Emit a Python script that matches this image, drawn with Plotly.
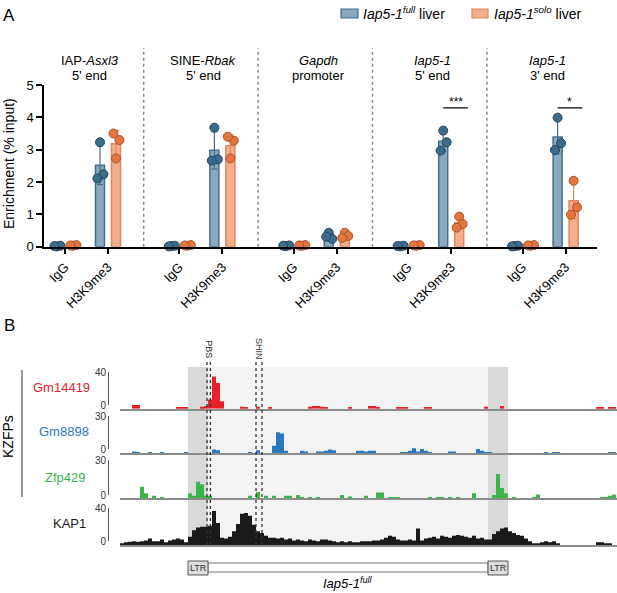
import numpy as np
import plotly.graph_objects as go

W, H = 617, 593
FONT = "Liberation Sans, Arial, sans-serif"


def fx(px):
    return px / W


def fy(py):
    return 1 - py / H


# ---------------- panel A: ChIP-qPCR ----------------
region_top = ["IAP-<i>Asxl3</i>", "SINE-<i>Rbak</i>", "<i>Gapdh</i>", "<i>Iap5-1</i>", "<i>Iap5-1</i>"]
region_bottom = ["5' end", "5' end", "promoter", "5' end", "3' end"]
antibodies = ["IgG", "H3K9me3"]

# one entry per (region, antibody): IgG, H3K9me3, IgG, H3K9me3, ...
full_mean = [0.02, 2.52, 0.02, 2.98, 0.03, 0.30, 0.02, 3.26, 0.02, 3.39]
full_sd = [0.01, 0.60, 0.01, 0.58, 0.01, 0.10, 0.01, 0.31, 0.01, 0.52]
full_reps = [
    [0.01, 0.03, 0.02], [3.23, 2.24, 2.11],
    [0.02, 0.03, 0.01], [3.68, 2.70, 2.66],
    [0.02, 0.04, 0.03], [0.43, 0.24, 0.31],
    [0.01, 0.03, 0.02], [3.59, 3.23, 2.97],
    [0.02, 0.03, 0.01], [3.99, 3.20, 2.99],
]
solo_mean = [0.04, 3.18, 0.04, 3.12, 0.04, 0.33, 0.04, 0.74, 0.04, 1.42]
solo_sd = [0.01, 0.42, 0.01, 0.35, 0.01, 0.09, 0.01, 0.17, 0.01, 0.55]
solo_reps = [
    [0.03, 0.05, 0.04], [2.73, 3.30, 3.50],
    [0.03, 0.05, 0.04], [2.73, 3.28, 3.40],
    [0.03, 0.05, 0.04], [0.43, 0.33, 0.27],
    [0.03, 0.05, 0.04], [0.93, 0.70, 0.59],
    [0.03, 0.05, 0.04], [2.04, 1.22, 0.99],
]
# significance: (region index, label)
signif = [(3, "***"), (4, "*")]

# ---------------- panel B: ChIP-seq tracks (binned) ----------------
gm14419 = [
    0, 0, 0, 4, 4, 0, 0, 0, 0, 0,
    0, 0, 0, 0, 1, 1, 1, 0, 0, 0,
    2, 3, 10, 35, 28, 8, 0, 0, 0, 0,
    2, 1, 0, 0, 2, 0, 0, 1, 0, 0,
    0, 0, 0, 0, 0, 0, 0, 2, 3, 3,
    2, 1, 0, 0, 0, 0, 0, 1, 0, 0,
    0, 0, 3, 3, 1, 0, 0, 0, 0, 1.5,
    1.5, 1, 0, 0, 0, 0, 1.5, 1.5, 0, 0,
    0, 0, 0, 0, 0, 0, 0, 0, 0, 0,
    0, 2, 0, 0, 0, 3, 0, 0, 0, 0,
    0, 0, 0, 0, 0, 0, 0, 0, 0, 0,
    0, 0, 0, 0, 0, 0, 0, 0, 0, 1.5,
    1.5, 0, 1.5, 1.5,
]
gm8898 = [
    0, 0, 0, 1.5, 1, 0, 0, 1, 0, 0,
    1, 0, 0, 0, 0, 0, 1, 0, 0, 0,
    0, 0, 0, 3, 2.5, 0, 0, 0, 0, 0,
    0, 0, 1, 0, 2.5, 0, 0, 0, 6, 17,
    16, 2, 0, 0, 0, 2, 1.5, 0, 0, 1.5,
    1.5, 2, 3, 2.5, 0, 0, 0, 0, 0, 2,
    2, 1.5, 2, 2, 0, 0, 0, 0, 0, 0,
    1, 1, 2, 4, 1.5, 3.5, 2, 1, 0, 0,
    0, 0, 1.5, 1.5, 0, 0, 0, 0, 0, 3.5,
    2, 1, 0.5, 0, 0, 0, 0, 0, 0, 0,
    0, 0, 0, 0, 0, 0, 1, 0, 1, 1,
    0, 0, 0, 0, 0, 0, 0, 0, 0, 0,
    0, 0, 1, 1,
]
zfp429 = [
    0, 0, 0, 0, 0, 9, 4, 0, 2, 0,
    1, 0, 0, 0, 0, 0, 0, 4, 2, 13,
    11, 2, 2, 0, 0, 0, 0, 0, 0, 0,
    0, 0, 2, 0, 5, 0, 2, 0, 2, 0,
    0, 2, 2, 0, 2.5, 1, 0, 1, 0, 1,
    0, 0, 0, 0, 0, 2.5, 0, 1.5, 0, 0,
    0, 2, 0, 0, 4.5, 4.5, 0, 1, 1, 1,
    0, 0, 0, 0, 0, 0, 0, 1, 0, 1,
    1, 0, 1, 0, 1, 0, 0, 0, 4, 0,
    0, 0, 0, 2.5, 19, 8, 4, 0, 1, 0,
    0, 0, 0, 1, 3, 0, 0, 0, 0, 0,
    0, 0, 0, 0, 0, 0, 0, 0, 0, 0,
    1, 1, 2, 3,
]
kap1 = [
    2, 3, 3.5, 4, 3.5, 4, 5, 7, 4, 4,
    6, 3, 5, 6, 7, 6, 3, 9, 16, 19,
    20, 20, 21, 37, 24, 8, 7, 9, 15, 23,
    34, 35, 32, 22, 15, 13, 10, 8, 8, 7,
    8, 6, 7, 5, 6, 5, 4, 6, 5, 4,
    6, 6, 5, 4, 3, 4, 3, 4, 3, 3,
    4, 4, 4, 5, 5, 6, 8, 10, 9, 6,
    5, 5, 6, 5, 18, 5, 7, 8, 9, 7,
    10, 9, 8, 10, 11, 10, 9, 8, 10, 7,
    8, 6, 6, 12, 15, 18, 19, 15, 13, 11,
    10, 7, 4, 2, 1, 3, 4, 3, 4, 2,
    0, 0, 0, 0, 0, 0, 0, 0, 0, 3,
    3, 2, 2, 0,
]
ltr_bins = [(17, 22), (92, 97)]
pbs_bins = [21.75, 22.6]
shin_bins = [34.0, 35.5]

# ---------------- styling ----------------
BLUE_BAR, BLUE_EDGE, BLUE_PT, BLUE_PT_EDGE = "#8aa9be", "#41708f", "#3d6b8c", "#25465e"
ORNG_BAR, ORNG_EDGE, ORNG_PT, ORNG_PT_EDGE = "#f3ae8c", "#e3855a", "#e3763f", "#ad5228"
STEP = 2.66          # distance between regions in category units
OFF = 0.186          # half distance between the two genotype bars
BAR_W = 0.21
REP_DX = [0.0, 0.08, -0.06]

cat_x = np.array([g * STEP + a for g in range(len(region_top)) for a in range(len(antibodies))])

fig = go.Figure()

for mean, sd, reps, dx, bar_c, edge_c, pt_c, pt_edge in [
    (full_mean, full_sd, full_reps, -OFF, BLUE_BAR, BLUE_EDGE, BLUE_PT, BLUE_PT_EDGE),
    (solo_mean, solo_sd, solo_reps, OFF, ORNG_BAR, ORNG_EDGE, ORNG_PT, ORNG_PT_EDGE),
]:
    fig.add_trace(go.Bar(
        x=cat_x + dx, y=mean, width=BAR_W,
        marker=dict(color=bar_c, line=dict(color=edge_c, width=1.5)),
        error_y=dict(type="data", array=sd, color=edge_c, thickness=1.2, width=3),
        xaxis="x", yaxis="y",
    ))
    px_, py_ = [], []
    for i, r in enumerate(reps):
        for j, v in enumerate(r):
            px_.append(cat_x[i] + dx + REP_DX[j])
            py_.append(v)
    fig.add_trace(go.Scatter(
        x=px_, y=py_, mode="markers", cliponaxis=False,
        marker=dict(size=9, color=pt_c, line=dict(color=pt_edge, width=1)),
        xaxis="x", yaxis="y",
    ))

# name, colour, values, scale max, baseline px, zero-tick px, top px, label x, label y
tracks = [
    ("Gm14419", "#e8202a", gm14419, 40, 408.7, 405, 372, 61, 387),
    ("Gm8898", "#2a78bf", gm8898, 30, 453.3, 449, 416, 64, 431),
    ("Zfp429", "#3bb54a", zfp429, 30, 498.3, 495, 460, 65, 477),
    ("KAP1", "#1a1a1a", kap1, 40, 545, 541, 508.3, 69, 523),
]
n_bins = len(kap1)
n_tr = len(tracks)
layout_axes = {}
annotations = []


def note(text, x, y, size, xref="paper", yref="paper", **kw):
    d = dict(text=text, xref=xref, yref=yref, x=x, y=y, xanchor="center", yanchor="middle",
             showarrow=False, font=dict(size=size, color=kw.pop("color", "black")))
    d.update(kw)
    annotations.append(d)


for k, (name, color, vals, ymax, y_bot, y_zero, y_top, lab_x, lab_y) in enumerate(tracks):
    ax = k + 2          # data axes
    bx = k + 2 + n_tr   # bracket (scale) axes
    fig.add_trace(go.Bar(
        x=np.arange(n_bins), y=vals, offset=0, width=1,
        marker=dict(color=color, line=dict(width=0)),
        xaxis=f"x{ax}", yaxis=f"y{ax}",
    ))
    fig.add_trace(go.Scatter(x=[None], y=[None], mode="markers", hoverinfo="skip",
                             xaxis="x2", yaxis=f"y{bx}"))
    xa = dict(domain=[fx(120), 1.0], range=[0, n_bins + 0.25], anchor=f"y{ax}",
              showline=True, linecolor="#8c8c8c", linewidth=1.5,
              showticklabels=False, ticks="", showgrid=False, zeroline=False)
    if ax > 2:
        xa["matches"] = "x2"
    layout_axes[f"xaxis{ax}"] = xa
    layout_axes[f"yaxis{ax}"] = dict(
        domain=[fy(y_bot), fy(y_top)], range=[0, ymax], anchor=f"x{ax}",
        showline=False, showticklabels=False, ticks="", showgrid=False, zeroline=False,
    )
    layout_axes[f"yaxis{bx}"] = dict(
        domain=[fy(y_zero), fy(y_top)], range=[0, ymax], anchor="free", position=fx(108),
        showline=True, linecolor="#555555", linewidth=1, ticks="inside", ticklen=6,
        tickcolor="#555555", tickvals=[0, ymax], tickfont=dict(size=10, color="#333333"),
        showgrid=False, zeroline=False,
    )
    note(name, fx(lab_x), fy(lab_y), 13, color=color)

shapes = []
# region separators in panel A
for g in range(len(region_top) - 1):
    xs = g * STEP + 1.83
    shapes.append(dict(type="line", xref="x", yref="paper", x0=xs, x1=xs, y0=fy(246.7), y1=fy(48),
                       line=dict(color="#8a8a8a", width=1.5, dash="dot")))
# region titles
for g in range(len(region_top)):
    xc = g * STEP + 0.57
    note(region_top[g], xc, fy(60), 13, xref="x")
    note(region_bottom[g], xc, fy(75), 13, xref="x")
# significance bars
for g, lab in signif:
    x0 = g * STEP + 1 - OFF
    x1 = g * STEP + 1 + OFF + 0.2
    shapes.append(dict(type="line", xref="x", yref="y", x0=x0, x1=x1, y0=4.29, y1=4.29,
                       line=dict(color="black", width=1.2)))
    note(lab, (x0 + x1) / 2, 4.29, 12, xref="x", yref="y", yanchor="bottom", yshift=-3)
# legend
for x0, x1, fc, lc, txt, tx in [
    (341, 358, BLUE_BAR, BLUE_EDGE, "<i>Iap5-1<sup>full</sup></i> liver", 361),
    (472, 488, ORNG_BAR, ORNG_EDGE, "<i>Iap5-1<sup>solo</sup></i> liver", 492),
]:
    shapes.append(dict(type="rect", xref="paper", yref="paper", x0=fx(x0), x1=fx(x1), y0=fy(18), y1=fy(9),
                       fillcolor=fc, line=dict(color=lc, width=1.2)))
    note(txt, fx(tx), fy(13), 14, xanchor="left")

# panel B shading, markers, gene model
shapes.append(dict(type="rect", xref="x2", yref="paper", x0=ltr_bins[0][1], x1=ltr_bins[1][0],
                   y0=fy(545), y1=fy(367), fillcolor="#f3f3f3", line=dict(width=0), layer="below"))
for a, b in ltr_bins:
    shapes.append(dict(type="rect", xref="x2", yref="paper", x0=a, x1=b, y0=fy(545), y1=fy(367),
                       fillcolor="#d9d9d9", line=dict(width=0), layer="below"))
for xb in pbs_bins + shin_bins:
    shapes.append(dict(type="line", xref="x2", yref="paper", x0=xb, x1=xb, y0=fy(545), y1=fy(362),
                       line=dict(color="#333333", width=1.3, dash="dot")))
for lab, bins_ in [("PBS", pbs_bins), ("SHIN", shin_bins)]:
    note(lab, sum(bins_) / 2, fy(349), 9, xref="x2", textangle=90, color="#333333")
shapes.append(dict(type="rect", xref="x2", yref="paper", x0=ltr_bins[0][1], x1=ltr_bins[1][0],
                   y0=fy(572), y1=fy(563), fillcolor="white", line=dict(color="#777777", width=1)))
for a, b in ltr_bins:
    shapes.append(dict(type="rect", xref="x2", yref="paper", x0=a, x1=b, y0=fy(575), y1=fy(561),
                       fillcolor="#dcdcdc", line=dict(color="#555555", width=1)))
    note("LTR", (a + b) / 2, fy(568), 9, xref="x2", color="#333333")
note("<i>Iap5-1<sup>full</sup></i>", fx(348), fy(583), 13)
shapes.append(dict(type="line", xref="paper", yref="paper", x0=fx(22), x1=fx(22), y0=fy(497), y1=fy(370),
                   line=dict(color="#333333", width=1)))
note("KZFPs", fx(8), fy(437), 14, textangle=-90)

# panel letters and y title
note("A", fx(9), fy(15), 17)
note("B", fx(9), fy(325), 17)
note("Enrichment (% input)", fx(9), fy(164), 14, textangle=-90)

fig.update_layout(
    width=W, height=H, margin=dict(l=0, r=0, t=0, b=0, autoexpand=False),
    paper_bgcolor="white", plot_bgcolor="rgba(0,0,0,0)",
    font=dict(family=FONT, color="black"),
    showlegend=False, barmode="overlay",
    xaxis=dict(domain=[fx(44), fx(597)], range=[-0.488, 12.37], anchor="y",
               tickvals=cat_x, ticktext=antibodies * len(region_top), tickangle=-45,
               ticks="outside", ticklen=6, tickwidth=1.5, tickcolor="black",
               showline=True, linecolor="black", linewidth=1.5,
               showgrid=False, zeroline=False, tickfont=dict(size=13)),
    yaxis=dict(domain=[fy(246.7), fy(85)], range=[0, 5], anchor="x",
               tickvals=[0, 1, 2, 3, 4, 5], ticks="outside", ticklen=6, tickwidth=1.5,
               tickcolor="black", showline=True, linecolor="black", linewidth=1.5,
               showgrid=False, zeroline=False, tickfont=dict(size=13)),
    shapes=shapes, annotations=annotations,
    **layout_axes,
)

# drop the browser's default body margin so the figure fills the window exactly
fig.write_html(
    "out.html",
    config={"displayModeBar": False},
    post_script="document.body.style.margin='0';document.body.style.overflow='hidden';",
)
